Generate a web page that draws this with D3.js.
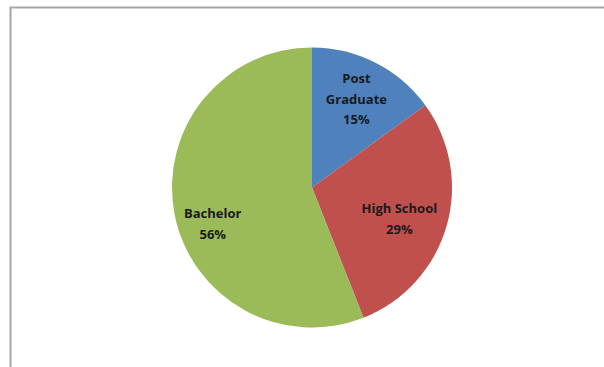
<!DOCTYPE html>
<html>
<head>
<meta charset="utf-8">
<script src="https://cdn.jsdelivr.net/npm/d3@7"></script>
<style>
  body { margin: 0; background: #fff; }
  svg { display: block; }
</style>
</head>
<body>
<div id="vis"></div>
<script>
// Data
const categories = ["Post Graduate", "High School", "Bachelor"]
const shares = [15, 29, 56]
const labelLines = [["Post", "Graduate"], ["High School"], ["Bachelor"]]
const colors = ["#4f81bd", "#c0504d", "#9bbb59"]

const width = 604
const height = 367

const svg = d3.select("#vis")
  .append("svg")
  .attr("width", width)
  .attr("height", height)

// chart area frame (cut off at right and bottom)
svg.append("path")
  .attr("d", "M10.5," + (height + 2) + " V7.5 H" + (width + 2))
  .attr("fill", "none")
  .attr("stroke", "#a5a5a5")
  .attr("stroke-width", 2)

const cx = 312, cy = 187.5, r = 140

const pie = d3.pie().sort(null).value(d => d)
const arcs = pie(shares)
const arc = d3.arc().innerRadius(0).outerRadius(r)

const g = svg.append("g").attr("transform", `translate(${cx},${cy})`)

g.selectAll("path.slice")
  .data(arcs)
  .enter()
  .append("path")
    .attr("class", "slice")
    .attr("d", arc)
    .attr("fill", (d, i) => colors[i])

// label anchor positions, nudged to where excel put them
const labelArc = d3.arc().innerRadius(r * 0.62).outerRadius(r * 0.62)
const labelOffsets = [[5, -11], [4, 7], [-14, 20]]

const lineH = 20.5
g.selectAll("text.lbl")
  .data(arcs)
  .enter()
  .append("text")
    .attr("class", "lbl")
    .attr("text-anchor", "middle")
    .attr("font-family", "'Open Sans', 'Liberation Sans', sans-serif")
    .attr("font-weight", "bold")
    .attr("font-size", 13)
    .attr("fill", "#1a1a1a")
    .each(function(d, i) {
      const c = labelArc.centroid(d)
      const lines = labelLines[i].concat([shares[i] + "%"])
      const y0 = c[1] - (lines.length - 1) * lineH / 2
      const t = d3.select(this)
      lines.forEach((s, k) => {
        t.append("tspan")
          .attr("x", c[0] + labelOffsets[i][0])
          .attr("y", y0 + k * lineH + labelOffsets[i][1])
          .attr("dy", "0.35em")
          .text(s)
      })
    })
</script>
</body>
</html>
